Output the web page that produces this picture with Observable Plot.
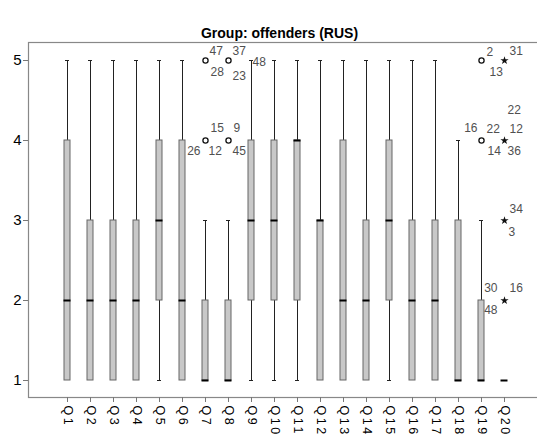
<!DOCTYPE html>
<html><head><meta charset="utf-8">
<script src="https://cdn.jsdelivr.net/npm/d3@7"></script>
<script src="https://cdn.jsdelivr.net/npm/@observablehq/plot@0.6"></script>
<style>body{margin:0;background:#fff;font-family:"Liberation Sans",Arial,sans-serif;overflow:hidden}
g[aria-label="x-axis tick label"] text{letter-spacing:2.6px}</style>
</head><body><div id="chart"></div>
<script>
const title = "Group: offenders (RUS)";
const questions = ["Q1","Q2","Q3","Q4","Q5","Q6","Q7","Q8","Q9","Q10","Q11","Q12","Q13","Q14","Q15","Q16","Q17","Q18","Q19","Q20"];
const whiskerLow  = [1,1,1,1,1,1,1,1,1,1,1,1,1,1,1,1,1,1,1,1];
const quartile1   = [1,1,1,1,2,1,1,1,2,2,2,1,1,1,2,1,1,1,1,1];
const medians     = [2,2,2,2,3,2,1,1,3,3,4,3,2,2,3,2,2,1,1,1];
const quartile3   = [4,3,3,3,4,4,2,2,4,4,4,3,4,3,4,3,3,3,2,1];
const whiskerHigh = [5,5,5,5,5,5,3,3,5,5,5,5,5,5,5,5,5,4,3,1];
const yTicks = [1,2,3,4,5];

// outliers (circles) and extremes (stars)
const outlierQ = ["Q7","Q7","Q8","Q8","Q19","Q19"];
const outlierV = [5,4,5,4,5,4];
const extremeQ = ["Q20","Q20","Q20","Q20"];
const extremeV = [5,4,3,2];

// case labels
const labelQ = ["Q7","Q7","Q8","Q8","Q9","Q7","Q7","Q7","Q8","Q8","Q19","Q19","Q20","Q19","Q19","Q19","Q20","Q20","Q20","Q20","Q20","Q20","Q20","Q20"];
const labelV = [5,5,5,5,5,4,4,4,4,4,5,5,5,4,4,4,4,4,4,3,3,2,2,2];
const labelT = ["47","28","37","23","48","15","26","12","9","45","2","13","31","16","22","14","22","12","36","34","3","30","16","48"];

// label layout (offsets from the marker, in px) kept apart from data
const labelLayout = [
  [4,-9,"start"],[5,12,"start"],[4,-9,"start"],[4,16,"start"],[1,2,"start"],
  [5,-12,"start"],[-5,11,"end"],[3,11,"start"],[5,-12,"start"],[4,11,"start"],
  [5,-8,"start"],[8,12,"start"],[5,-9,"start"],
  [-4,-12,"end"],[5,-11,"start"],[6,11,"start"],
  [3,-30,"start"],[5,-11,"start"],[3,11,"start"],
  [5,-11,"start"],[4,12,"start"],
  [-7,-12,"end"],[5,-12,"start"],[-7,10,"end"]
];

const rows = questions.map((q,i)=>({q, lo:whiskerLow[i], q1:quartile1[i], med:medians[i], q3:quartile3[i], hi:whiskerHigh[i]}));
const outliers = outlierQ.map((q,i)=>({q, v:outlierV[i]}));
const extremes = extremeQ.map((q,i)=>({q, v:extremeV[i]}));
const labels = labelQ.map((q,i)=>({q, v:labelV[i], t:labelT[i], dx:labelLayout[i][0], dy:labelLayout[i][1], a:labelLayout[i][2]}));

const yDomain = [0.7875, 5.225];
const font = "Liberation Sans, Arial, sans-serif";

const labelMarks = labels.map(l => Plot.text([l], {x:"q", y:"v", text:"t", dx:l.dx, dy:l.dy, textAnchor:l.a, fill:"#505050", fontSize:12}));

const chart = Plot.plot({
  width: 537, height: 439,
  marginLeft: 28, marginRight: -3, marginTop: 42, marginBottom: 42,
  style: {fontFamily: font, background: "#fff"},
  x: {type: "band", domain: questions, range: [54.45, 516.55], paddingInner: 0.74, paddingOuter: 0.37, label: null},
  y: {domain: yDomain, label: null},
  marks: [
    Plot.frame({stroke: "#888", strokeWidth: 1.2}),
    Plot.axisY({ticks: yTicks, tickSize: 5, tickPadding: 2, fontSize: 15, stroke: "#777", fill: "#000", tickFormat: d3.format("d"), label: null}),
    Plot.axisX({tickSize: 5, tickPadding: 3, tickRotate: 90, fontSize: 12.5, stroke: "#777", fill: "#000", label: null}),
    Plot.ruleX(rows.filter(d=>d.hi>d.q3), {x:"q", y1:"q3", y2:"hi", stroke:"#222"}),
    Plot.ruleX(rows.filter(d=>d.lo<d.q1), {x:"q", y1:"lo", y2:"q1", stroke:"#222"}),
    Plot.tickY(rows.filter(d=>d.hi>d.q3), {x:"q", y:"hi", stroke:"#222", insetLeft:1, insetRight:1}),
    Plot.tickY(rows.filter(d=>d.lo<d.q1), {x:"q", y:"lo", stroke:"#222", insetLeft:1, insetRight:1}),
    Plot.barY(rows.filter(d=>d.q3>d.q1), {x:"q", y1:"q1", y2:"q3", fill:"#c8c8c8", stroke:"#666", strokeWidth:1}),
    Plot.tickY(rows, {x:"q", y:"med", stroke:"#000", strokeWidth:2, insetLeft:-0.5, insetRight:-0.5}),
    Plot.dot(outliers, {x:"q", y:"v", r:2.6, stroke:"#111", fill:"none", strokeWidth:1.3}),
    Plot.dot(extremes, {x:"q", y:"v", r:2.6, symbol:"star", fill:"#111", stroke:"none"}),
    ...labelMarks,
    Plot.text([title], {frameAnchor:"top", lineAnchor:"middle", dy:-9, dx:-5, fontWeight:"bold", fontSize:14, fill:"#000"})
  ]
});
document.getElementById("chart").appendChild(chart);
</script>
</body></html>
